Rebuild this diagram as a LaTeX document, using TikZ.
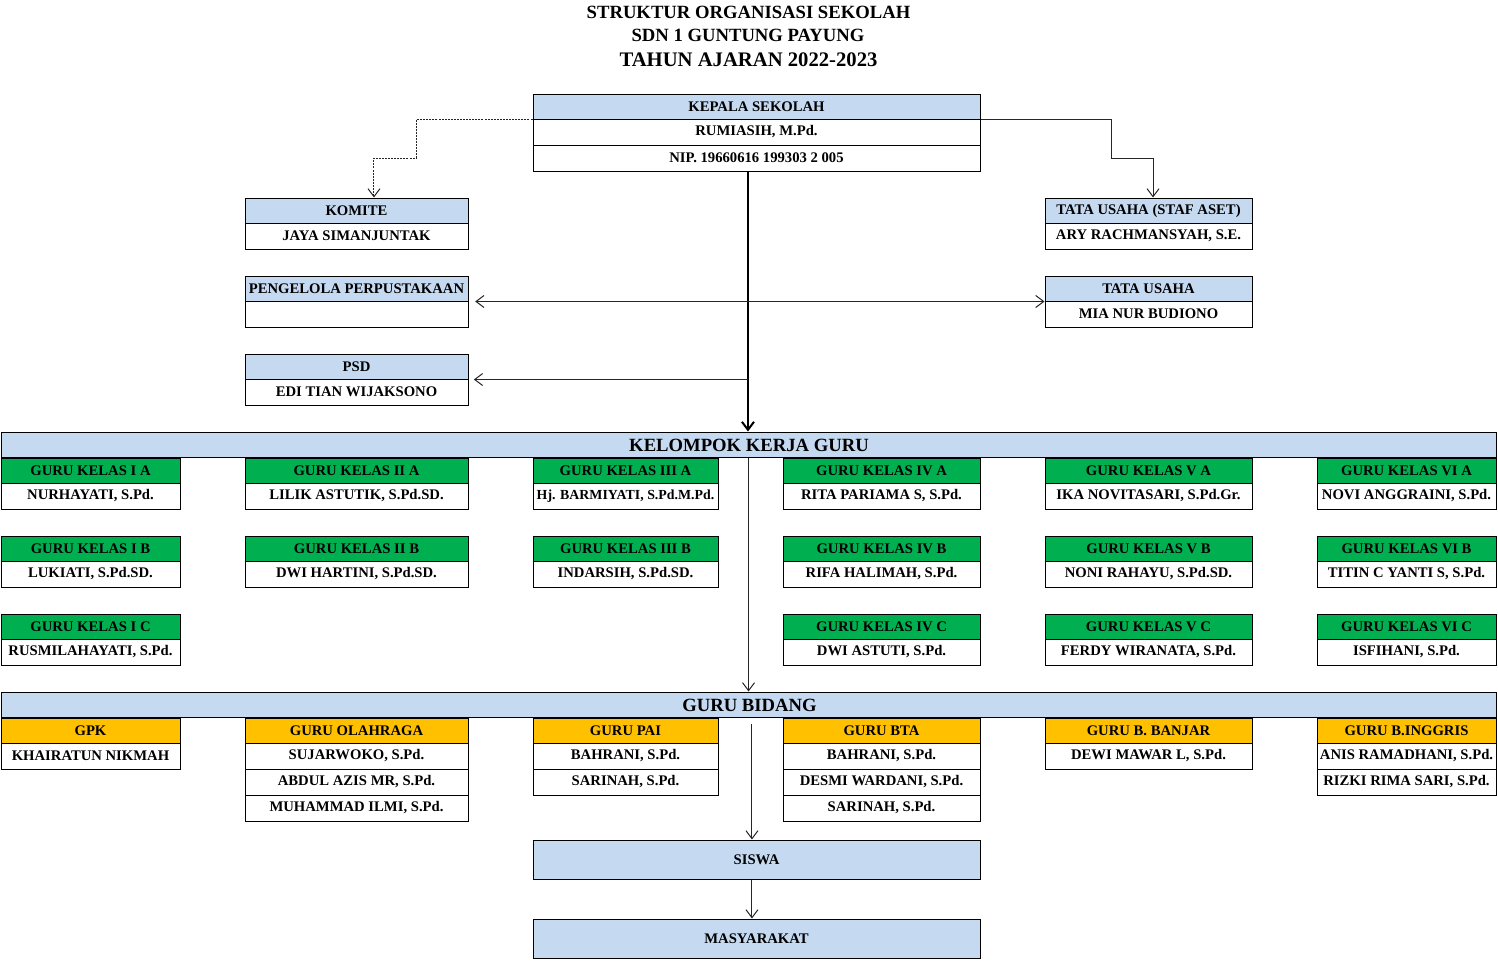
\documentclass[tikz,border=0pt]{standalone}
\usepackage{fontspec}
\setmainfont{Liberation Serif}
\usetikzlibrary{arrows.meta,calc}
\definecolor{hblue}{HTML}{C5D9F1}
\definecolor{hgreen}{HTML}{00B050}
\definecolor{horange}{HTML}{FFC000}
\tikzset{
  cellbox/.style={draw=black, line width=0.75pt, inner sep=0pt, font=\bfseries\fontsize{11}{12}\selectfont},
  conn/.style={draw=black!85, line width=0.75pt, -{Straight Barb[length=6pt,width=9pt]}},
  dconn/.style={conn, dash pattern=on 1.5pt off 0.8pt},
  thickconn/.style={draw=black, line width=2.2pt, -{Straight Barb[length=6pt,width=9pt,line width=1.5pt]}},
  ttl/.style={inner sep=0pt, font=\bfseries\fontsize{14}{15}\selectfont},
  bartext/.style={font=\bfseries\fontsize{14}{15}\selectfont}
}
\newcommand{\obox}[7]{\node[cellbox, fill=#2, minimum width={(#5-#3)*0.75pt}, minimum height={(#6-#4)*0.75pt}] (#1) at ({(#3+#5)/2},{(#4+#6)/2}) {\raisebox{-0.6pt}{#7}};}
\begin{document}
\begin{tikzpicture}[x=0.75pt,y=-0.75pt]
\useasboundingbox (0,0) rectangle (1498,960);
% titles
\node[ttl] (t1) at (748.5,12) {STRUKTUR ORGANISASI SEKOLAH};
\node[ttl] (t2) at (748,35) {SDN 1 GUNTUNG PAYUNG};
\node[ttl, font=\bfseries\fontsize{15.5}{17}\selectfont] (t3) at (748.5,60) {TAHUN AJARAN 2022-2023};
% kepala sekolah
\obox{kh}{hblue}{533}{94}{980}{119}{KEPALA SEKOLAH}
\obox{kn}{white}{533}{119}{980}{145}{RUMIASIH, M.Pd.}
\obox{kp}{white}{533}{145}{980}{171}{NIP. 19660616 199303 2 005}
% left column
\obox{komh}{hblue}{245}{198}{468}{223}{KOMITE}
\obox{komn}{white}{245}{223}{468}{249}{JAYA SIMANJUNTAK}
\obox{perh}{hblue}{245}{276}{468}{301}{PENGELOLA PERPUSTAKAAN}
\obox{pern}{white}{245}{301}{468}{327}{}
\obox{psdh}{hblue}{245}{354}{468}{379}{PSD}
\obox{psdn}{white}{245}{379}{468}{405}{EDI TIAN WIJAKSONO}
% right column
\obox{tush}{hblue}{1045}{198}{1252}{223}{TATA USAHA (STAF ASET)}
\obox{tusn}{white}{1045}{223}{1252}{249}{ARY RACHMANSYAH, S.E.}
\obox{tuah}{hblue}{1045}{276}{1252}{301}{TATA USAHA}
\obox{tuan}{white}{1045}{301}{1252}{327}{MIA NUR BUDIONO}
% kelompok kerja guru
\obox{kkg}{hblue}{1}{432}{1496}{457}{}
\node[bartext] (kkgt) at (749,445) {KELOMPOK KERJA GURU};
% row A
\obox{g1ah}{hgreen}{1}{458}{180}{483}{GURU KELAS I A}
\obox{g1an}{white}{1}{483}{180}{509}{NURHAYATI, S.Pd.}
\obox{g2ah}{hgreen}{245}{458}{468}{483}{GURU KELAS II A}
\obox{g2an}{white}{245}{483}{468}{509}{LILIK ASTUTIK, S.Pd.SD.}
\obox{g3ah}{hgreen}{533}{458}{718}{483}{GURU KELAS III A}
\obox{g3an}{white}{533}{483}{718}{509}{\fontsize{10.4}{12}\selectfont Hj. BARMIYATI, S.Pd.M.Pd.}
\obox{g4ah}{hgreen}{783}{458}{980}{483}{GURU KELAS IV A}
\obox{g4an}{white}{783}{483}{980}{509}{RITA PARIAMA S, S.Pd.}
\obox{g5ah}{hgreen}{1045}{458}{1252}{483}{GURU KELAS V A}
\obox{g5an}{white}{1045}{483}{1252}{509}{IKA NOVITASARI, S.Pd.Gr.}
\obox{g6ah}{hgreen}{1317}{458}{1496}{483}{GURU KELAS VI A}
\obox{g6an}{white}{1317}{483}{1496}{509}{NOVI ANGGRAINI, S.Pd.}
% row B
\obox{g1bh}{hgreen}{1}{536}{180}{561}{GURU KELAS I B}
\obox{g1bn}{white}{1}{561}{180}{587}{LUKIATI, S.Pd.SD.}
\obox{g2bh}{hgreen}{245}{536}{468}{561}{GURU KELAS II B}
\obox{g2bn}{white}{245}{561}{468}{587}{DWI HARTINI, S.Pd.SD.}
\obox{g3bh}{hgreen}{533}{536}{718}{561}{GURU KELAS III B}
\obox{g3bn}{white}{533}{561}{718}{587}{INDARSIH, S.Pd.SD.}
\obox{g4bh}{hgreen}{783}{536}{980}{561}{GURU KELAS IV B}
\obox{g4bn}{white}{783}{561}{980}{587}{RIFA HALIMAH, S.Pd.}
\obox{g5bh}{hgreen}{1045}{536}{1252}{561}{GURU KELAS V B}
\obox{g5bn}{white}{1045}{561}{1252}{587}{NONI RAHAYU, S.Pd.SD.}
\obox{g6bh}{hgreen}{1317}{536}{1496}{561}{GURU KELAS VI B}
\obox{g6bn}{white}{1317}{561}{1496}{587}{TITIN C YANTI S, S.Pd.}
% row C
\obox{g1ch}{hgreen}{1}{614}{180}{639}{GURU KELAS I C}
\obox{g1cn}{white}{1}{639}{180}{665}{RUSMILAHAYATI, S.Pd.}
\obox{g4ch}{hgreen}{783}{614}{980}{639}{GURU KELAS IV C}
\obox{g4cn}{white}{783}{639}{980}{665}{DWI ASTUTI, S.Pd.}
\obox{g5ch}{hgreen}{1045}{614}{1252}{639}{GURU KELAS V C}
\obox{g5cn}{white}{1045}{639}{1252}{665}{FERDY WIRANATA, S.Pd.}
\obox{g6ch}{hgreen}{1317}{614}{1496}{639}{GURU KELAS VI C}
\obox{g6cn}{white}{1317}{639}{1496}{665}{ISFIHANI, S.Pd.}
% guru bidang
\obox{gb}{hblue}{1}{692}{1496}{717}{}
\node[bartext] (gbt) at (749.5,705) {GURU BIDANG};
\obox{gpkh}{horange}{1}{718}{180}{743}{GPK}
\obox{gpk1}{white}{1}{743}{180}{769}{KHAIRATUN NIKMAH}
\obox{olh}{horange}{245}{718}{468}{743}{GURU OLAHRAGA}
\obox{ol1}{white}{245}{743}{468}{769}{SUJARWOKO, S.Pd.}
\obox{ol2}{white}{245}{769}{468}{795}{ABDUL AZIS MR, S.Pd.}
\obox{ol3}{white}{245}{795}{468}{821}{MUHAMMAD ILMI, S.Pd.}
\obox{paih}{horange}{533}{718}{718}{743}{GURU PAI}
\obox{pai1}{white}{533}{743}{718}{769}{BAHRANI, S.Pd.}
\obox{pai2}{white}{533}{769}{718}{795}{SARINAH, S.Pd.}
\obox{btah}{horange}{783}{718}{980}{743}{GURU BTA}
\obox{bta1}{white}{783}{743}{980}{769}{BAHRANI, S.Pd.}
\obox{bta2}{white}{783}{769}{980}{795}{DESMI WARDANI, S.Pd.}
\obox{bta3}{white}{783}{795}{980}{821}{SARINAH, S.Pd.}
\obox{bjh}{horange}{1045}{718}{1252}{743}{GURU B. BANJAR}
\obox{bj1}{white}{1045}{743}{1252}{769}{DEWI MAWAR L, S.Pd.}
\obox{ingh}{horange}{1317}{718}{1496}{743}{GURU B.INGGRIS}
\obox{ing1}{white}{1317}{743}{1496}{769}{ANIS RAMADHANI, S.Pd.}
\obox{ing2}{white}{1317}{769}{1496}{795}{RIZKI RIMA SARI, S.Pd.}
% siswa, masyarakat
\obox{siswa}{hblue}{533}{840}{980}{879}{SISWA}
\obox{masy}{hblue}{533}{919}{980}{958}{MASYARAKAT}
% connectors
\coordinate (spine) at ([xshift=-6.4pt]kp.south);
\draw[dconn] (kh.south west) -| (416,158) -| ([xshift=13.1pt]komh.north);
\draw[conn] (kh.south east) -| (1111,158) -| ([xshift=3.4pt]tush.north);
\draw[thickconn] (spine) -- (spine |- kkg.north);
\draw[conn, {Straight Barb[length=6pt,width=9pt]}-{Straight Barb[length=6pt,width=9pt]}, shorten <=5pt] (perh.south east) -- (tuah.south west);
\coordinate (j2) at (spine |- psdh.south);
\draw[conn, shorten >=4pt] (j2) -- (psdh.south east);
\draw[conn] (kkg.south) -- (gb.north);
\coordinate (gbs) at ([xshift=2.6pt,yshift=-4.5pt]gb.south);
\draw[conn] (gbs) -- (gbs |- siswa.north);
\coordinate (sss) at ([xshift=-3.4pt]siswa.south);
\draw[conn] (sss) -- (sss |- masy.north);
\end{tikzpicture}
\end{document}
